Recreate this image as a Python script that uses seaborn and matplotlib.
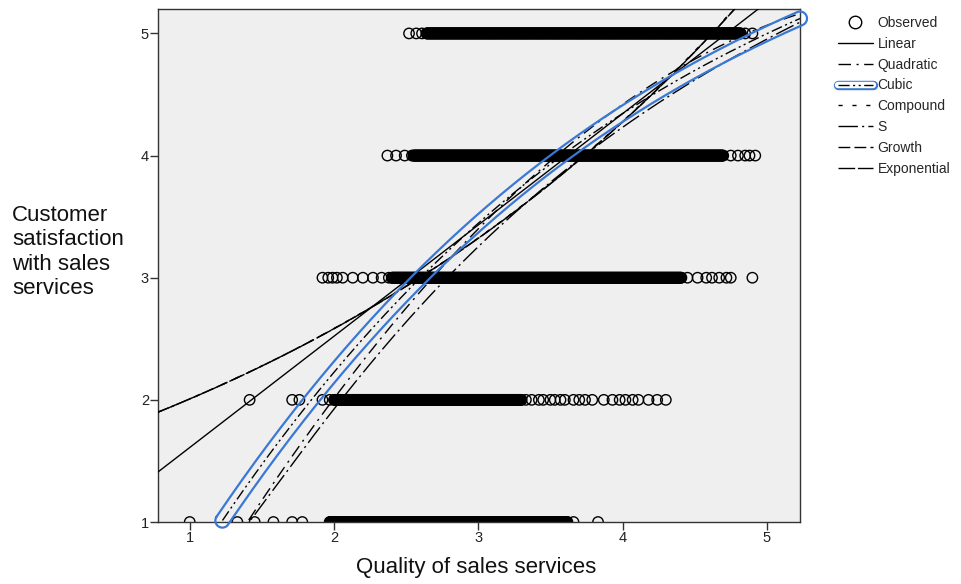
import numpy as np
import pandas as pd
import matplotlib
matplotlib.use("Agg")
import matplotlib.pyplot as plt
from matplotlib.lines import Line2D
from matplotlib.legend_handler import HandlerTuple
import seaborn as sns

# Observed cases: quality score (x) per satisfaction level (y).
# Single circles that can be told apart
single_1 = [1.00, 1.33, 1.45, 1.58, 1.71, 1.78, 3.66, 3.83]
single_2 = [1.415, 1.71, 1.76, 1.92, 1.97, 3.33, 3.37, 3.42, 3.45, 3.50, 3.53, 3.57,
            3.60, 3.66, 3.70, 3.74, 3.79, 3.87, 3.93, 3.98, 4.02, 4.07, 4.11, 4.18,
            4.24, 4.30]
single_3 = [1.92, 1.96, 1.99, 2.02, 2.06, 2.13, 2.20, 2.27, 2.33, 2.38, 4.45, 4.52,
            4.58, 4.62, 4.67, 4.72, 4.75, 4.90]
single_4 = [2.37, 2.43, 2.49, 2.54, 4.75, 4.80, 4.85, 4.88, 4.92]
single_5 = [2.52, 2.57, 2.61, 4.85, 4.90]
# Stretches where the circles overlap into a solid band: (from, to)
band_1 = [(1.97, 3.62)]
band_2 = [(2.00, 3.30)]
band_3 = [(2.40, 4.41)]
band_4 = [(2.55, 4.70)]
band_5 = [(2.64, 4.82)]

# Fitted models (coefficients estimated from the drawn curves)
linear_b = [0.699, 0.911]                     # b0 + b1*x
quadratic_b = [-1.879, 2.316, -0.1854]        # b0 + b1*x + b2*x^2
cubic_b = [-1.492, 2.363, -0.278, 0.0130]     # b0 + b1*x + b2*x^2 + b3*x^3
compound_b = [1.56, 1.287]                    # b0 * b1^x
s_b = [2.23, -3.15]                           # exp(b0 + b1/x)
growth_b = [0.445, 0.252]                     # exp(b0 + b1*x)
exponential_b = [1.56, 0.252]                 # b0 * exp(b1*x)

x_ticks = [1, 2, 3, 4, 5]
y_ticks = [1, 2, 3, 4, 5]
x_lim = (0.78, 5.23)
y_lim = (1.0, 5.2)

# build observed table
rows = []
for level, singles, bands in [(1, single_1, band_1), (2, single_2, band_2),
                              (3, single_3, band_3), (4, single_4, band_4),
                              (5, single_5, band_5)]:
    for v in singles:
        rows.append((v, level))
    for a, b in bands:
        for v in np.arange(a, b + 1e-9, 0.004):
            rows.append((v, level))
obs = pd.DataFrame(rows, columns=["quality", "satisfaction"])

xs = np.linspace(x_lim[0], x_lim[1], 400)
curves = {
    "Linear": linear_b[0] + linear_b[1] * xs,
    "Quadratic": quadratic_b[0] + quadratic_b[1] * xs + quadratic_b[2] * xs ** 2,
    "Cubic": cubic_b[0] + cubic_b[1] * xs + cubic_b[2] * xs ** 2 + cubic_b[3] * xs ** 3,
    "Compound": compound_b[0] * compound_b[1] ** xs,
    "S": np.exp(s_b[0] + s_b[1] / xs),
    "Growth": np.exp(growth_b[0] + growth_b[1] * xs),
    "Exponential": exponential_b[0] * np.exp(exponential_b[1] * xs),
}
styles = {
    "Linear": "-",
    "Quadratic": (0, (9, 4, 1.5, 4)),
    "Cubic": (0, (8, 2.5, 1.5, 2.5, 1.5, 2.5)),
    "Compound": (0, (3, 7)),
    "S": (0, (14, 3, 1.5, 3)),
    "Growth": (0, (8.5, 3)),
    "Exponential": (0, (12, 2)),
}

sns.set_style("ticks", {"xtick.major.size": 6, "ytick.major.size": 6,
                        "xtick.bottom": True, "ytick.left": True})
plt.rcParams["font.family"] = ["Liberation Sans", "DejaVu Sans"]
hl_blue = "#3a78d4"

fig = plt.figure(figsize=(9.62, 5.84), dpi=100)
ax = fig.add_axes([158 / 962, 1 - 522 / 584, (800 - 158) / 962, (522 - 9) / 584])
ax.set_facecolor("#efefef")

sns.scatterplot(data=obs, x="quality", y="satisfaction", ax=ax, marker="o",
                s=56, facecolor="none", edgecolor="black", linewidth=1.0,
                legend=False, zorder=2)

for name, ys in curves.items():
    sns.lineplot(x=xs, y=ys, ax=ax, color="black", lw=1.0, linestyle=styles[name],
                 sort=False, estimator=None, zorder=3)

ax.set_xlim(*x_lim)
ax.set_ylim(*y_lim)
ax.set_xticks(x_ticks)
ax.set_yticks(y_ticks)
ax.set_xlabel("")
ax.set_ylabel("")
ax.tick_params(labelsize=10.5, labelcolor="#222222", pad=3)
for tick in ax.xaxis.get_major_ticks() + ax.yaxis.get_major_ticks():
    tick.tick1line.set_visible(True)
    tick.tick1line.set_markersize(6)
    tick.tick1line.set_markeredgewidth(1.0)
    tick.tick1line.set_markeredgecolor("#333333")
    tick.tick1line.set_color("#333333")
for sp in ax.spines.values():
    sp.set_visible(True)
    sp.set_color("#333333")
    sp.set_linewidth(1.0)

# blue selection outline around the cubic curve
cy = curves["Cubic"]
keep = cy >= y_lim[0]
pts = ax.transData.transform(np.column_stack([xs[keep], cy[keep]]))
d = np.gradient(pts, axis=0)
d /= np.linalg.norm(d, axis=1)[:, None]
nrm = np.column_stack([-d[:, 1], d[:, 0]])
r = 7.0
upper = pts + r * nrm
lower = pts - r * nrm
a_end = np.arctan2(nrm[-1, 1], nrm[-1, 0])
a_start = np.arctan2(-nrm[0, 1], -nrm[0, 0])
cap_end = pts[-1] + r * np.column_stack([np.cos(np.linspace(a_end, a_end - np.pi, 20)),
                                          np.sin(np.linspace(a_end, a_end - np.pi, 20))])
cap_start = pts[0] + r * np.column_stack([np.cos(np.linspace(a_start, a_start - np.pi, 20)),
                                           np.sin(np.linspace(a_start, a_start - np.pi, 20))])
ring = np.vstack([upper, cap_end, lower[::-1], cap_start, upper[:1]])
ring_data = ax.transData.inverted().transform(ring)
ax.plot(ring_data[:, 0], ring_data[:, 1], color=hl_blue, lw=1.6, clip_on=False, zorder=4)

# legend
handles = [Line2D([], [], marker="o", ls="none", markersize=9, markerfacecolor="none",
                  markeredgecolor="black", markeredgewidth=1.0)]
labels = ["Observed"]
for name in curves:
    ln = Line2D([], [], color="black", lw=1.0, linestyle=styles[name])
    if name == "Cubic":
        box = Line2D([], [], color=hl_blue, lw=6.8, solid_capstyle="round")
        inner = Line2D([], [], color="white", lw=4.6, solid_capstyle="round")
        ln = (box, inner, ln)
    handles.append(ln)
    labels.append(name)
fig.legend(handles, labels, loc="upper left", bbox_to_anchor=(838 / 962, 1 - 16 / 584),
           frameon=False, fontsize=10, handlelength=2.5, handletextpad=0.35,
           labelspacing=0.49, borderpad=0, borderaxespad=0,
           handler_map={tuple: HandlerTuple(ndivide=1, pad=0)})

fig.text(12 / 962, 1 - 252 / 584, "Customer\nsatisfaction\nwith sales\nservices",
         fontsize=16, ha="left", va="center", color="#111111")
fig.text(476 / 962, 1 - 568 / 584, "Quality of sales services", fontsize=16,
         ha="center", va="center", color="#111111")

fig.savefig("out.png", dpi=100)
